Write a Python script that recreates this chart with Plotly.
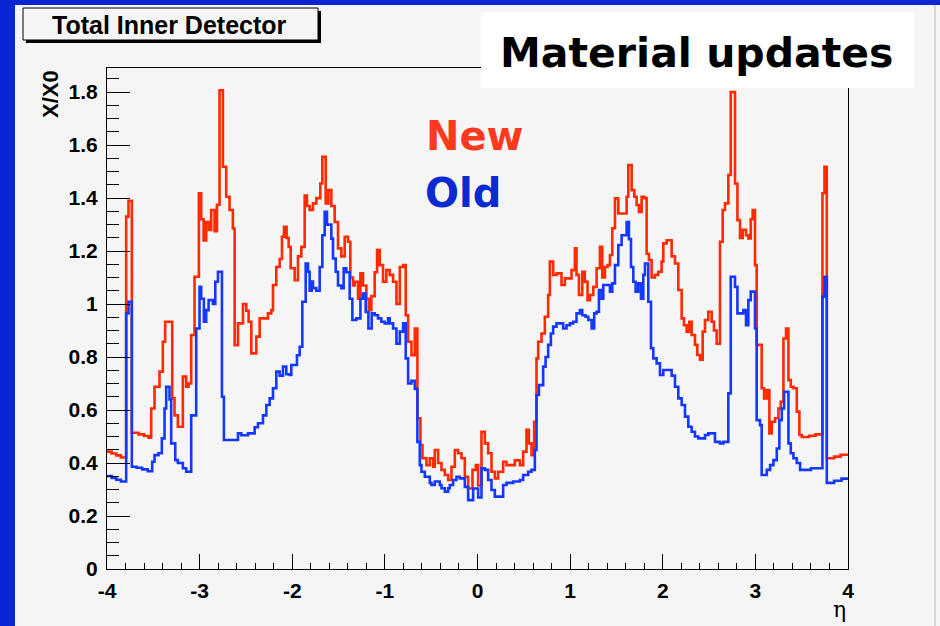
import plotly.graph_objects as go

# Material budget (X/X0) of the total inner detector versus pseudorapidity.
# Each series is a histogram given as step start positions in eta and step contents.
new_eta = [
    -4.000, -3.950, -3.900, -3.850,
    -3.793, -3.768, -3.732, -3.660, -3.600, -3.550,
    -3.523, -3.487, -3.433, -3.397, -3.372, -3.296, -3.271, -3.235, -3.181, -3.145,
    -3.119, -3.091, -3.055, -3.008, -2.983, -2.957, -2.929, -2.900, -2.875, -2.839,
    -2.813, -2.785, -2.749, -2.713, -2.677, -2.641, -2.622,
    -2.586, -2.532, -2.496, -2.471, -2.442, -2.388, -2.352, -2.262, -2.226, -2.208,
    -2.172, -2.136, -2.111, -2.089, -2.061, -2.039, -2.017,
    -1.974, -1.938, -1.902, -1.866, -1.841, -1.812, -1.776, -1.740, -1.697, -1.675,
    -1.639, -1.610, -1.578, -1.542, -1.506, -1.470, -1.434, -1.398, -1.373, -1.344,
    -1.326, -1.290, -1.264, -1.236, -1.200, -1.174, -1.146, -1.110, -1.084, -1.056,
    -1.020, -0.984, -0.948, -0.911, -0.875, -0.839, -0.803, -0.775, -0.749, -0.713,
    -0.677, -0.649,
    -0.616, -0.594, -0.551, -0.515, -0.479, -0.461, -0.425, -0.389, -0.353, -0.317,
    -0.281, -0.245, -0.209, -0.173, -0.137, -0.101,
    -0.054, -0.018, 0.007, 0.043, 0.079, 0.115, 0.151, 0.187, 0.223, 0.277,
    0.313, 0.403, 0.457, 0.493, 0.529, 0.554, 0.583, 0.612,
    0.637, 0.655, 0.691, 0.727, 0.763, 0.781, 0.817, 0.853, 0.907, 0.943,
    1.015, 1.051, 1.069, 1.095, 1.131, 1.159, 1.188, 1.214, 1.250, 1.286,
    1.322, 1.347, 1.376, 1.404, 1.430, 1.455, 1.484, 1.520, 1.610, 1.628,
    1.664, 1.693, 1.718, 1.743, 1.772, 1.801, 1.826, 1.851, 1.880, 1.916,
    1.952, 1.988,
    2.006, 2.042, 2.096, 2.132, 2.168, 2.204, 2.229, 2.258, 2.287, 2.312,
    2.348, 2.373, 2.402, 2.431, 2.456, 2.492, 2.528, 2.553, 2.582, 2.618,
    2.647, 2.672, 2.708, 2.734, 2.780, 2.806, 2.834, 2.863, 2.899, 2.924,
    2.950, 2.971, 2.996, 3.014, 3.068, 3.094, 3.123, 3.151, 3.177, 3.213,
    3.249, 3.274, 3.303, 3.331, 3.357, 3.382, 3.411, 3.447, 3.475, 3.501,
    3.580, 3.650, 3.724, 3.746, 3.771, 3.850, 3.920,
]
new_x0 = [
    0.443, 0.436, 0.429, 0.421,
    1.330, 1.390, 0.514, 0.508, 0.502, 0.496,
    0.606, 0.688, 0.745, 0.858, 0.933, 0.644, 0.580, 0.537, 0.726, 0.688,
    0.700, 0.883, 1.103, 1.418, 1.320, 1.240, 1.310, 1.280, 1.355, 1.275,
    1.375, 1.807, 1.518, 1.405, 1.355, 1.285, 0.845,
    0.927, 1.000, 0.975, 0.933, 0.814, 0.877, 0.946, 0.965, 0.977, 1.072,
    1.140, 1.170, 1.254, 1.292, 1.250, 1.216, 1.135,
    1.090, 1.180, 1.216, 1.410, 1.370, 1.355, 1.380, 1.400, 1.455, 1.556,
    1.380, 1.430, 1.370, 1.310, 1.210, 1.180, 1.254, 1.235, 1.100, 1.070,
    1.084, 1.020, 1.116, 1.070, 1.020, 0.977, 1.030, 1.120, 1.204, 1.147,
    1.084, 1.128, 1.110, 1.084, 1.000, 1.140, 1.147, 0.958, 0.858, 0.807,
    0.908, 0.569,
    0.468, 0.418, 0.392, 0.418, 0.386, 0.449, 0.400, 0.374, 0.355, 0.336,
    0.386, 0.449, 0.437, 0.418, 0.348, 0.304,
    0.374, 0.392, 0.315, 0.518, 0.474, 0.437, 0.367, 0.342, 0.367, 0.405,
    0.392, 0.410, 0.392, 0.443, 0.525, 0.474, 0.430, 0.556,
    0.795, 0.858, 0.889, 0.952, 1.034, 1.160, 1.110, 1.116, 1.072, 1.097,
    1.128, 1.210, 1.110, 1.034, 1.122, 1.084, 1.015, 1.034, 1.065, 1.135,
    1.216, 1.100, 1.140, 1.147, 1.185, 1.286, 1.399, 1.342, 1.405, 1.525,
    1.430, 1.405, 1.374, 1.348, 1.405, 1.400, 1.190, 1.166, 1.100, 1.110,
    1.122, 1.160,
    1.229, 1.241, 1.180, 1.153, 1.053, 0.946, 0.920, 0.896, 0.933, 0.883,
    0.846, 0.808, 0.790, 0.896, 0.940, 0.971, 0.933, 0.900, 0.850, 1.235,
    1.355, 1.380, 1.487, 1.800, 1.455, 1.317, 1.250, 1.280, 1.260, 1.248,
    1.320, 1.355, 1.147, 0.846, 0.682, 0.644, 0.675, 0.512, 0.556, 0.569,
    0.606, 0.631, 0.870, 0.908, 0.713, 0.688, 0.682, 0.594, 0.506, 0.498,
    0.503, 0.508, 1.418, 1.518, 0.418, 0.424, 0.431,
]

old_eta = [
    -4.000, -3.950, -3.900, -3.850,
    -3.793, -3.768, -3.732, -3.680, -3.620, -3.560,
    -3.512, -3.487, -3.444, -3.408, -3.379, -3.361, -3.325, -3.307, -3.263, -3.235,
    -3.181, -3.145, -3.091, -3.037, -3.001, -2.983, -2.954, -2.929, -2.903, -2.856,
    -2.831, -2.802, -2.759, -2.738, -2.586, -2.550, -2.478, -2.406, -2.370, -2.316,
    -2.280, -2.244, -2.208, -2.172, -2.136, -2.100, -2.064, -2.028,
    -2.010, -1.949, -1.920, -1.891, -1.855, -1.830, -1.812, -1.790, -1.776, -1.740,
    -1.704, -1.675, -1.650, -1.625, -1.578, -1.560, -1.531, -1.506, -1.470, -1.445,
    -1.416, -1.380, -1.351, -1.308, -1.264, -1.236, -1.207, -1.178, -1.142, -1.110,
    -1.074, -1.038, -1.002, -0.966, -0.948, -0.911, -0.875, -0.839, -0.803, -0.775,
    -0.749, -0.713, -0.677, -0.649,
    -0.623, -0.605, -0.569, -0.515, -0.497, -0.461, -0.407, -0.389, -0.353, -0.317,
    -0.299, -0.263, -0.227, -0.191, -0.137, -0.101,
    -0.047, 0.007, 0.043, 0.079, 0.115, 0.151, 0.187, 0.277, 0.313, 0.385,
    0.457, 0.493, 0.547, 0.583, 0.619,
    0.637, 0.663, 0.709, 0.735, 0.763, 0.792, 0.817, 0.853, 0.925, 0.961,
    0.997, 1.033, 1.069, 1.106, 1.131, 1.167, 1.196, 1.232, 1.260, 1.286,
    1.311, 1.340, 1.358, 1.430, 1.455, 1.484, 1.520, 1.556, 1.610, 1.635,
    1.657, 1.682, 1.707, 1.736, 1.765, 1.790, 1.808, 1.844, 1.873, 1.898,
    1.934, 1.970,
    2.006, 2.096, 2.132, 2.168, 2.204, 2.240, 2.276, 2.312, 2.348, 2.384,
    2.456, 2.492, 2.564, 2.618, 2.654, 2.708, 2.734, 2.780, 2.806, 2.870,
    2.899, 2.924, 2.950, 2.996, 3.014, 3.050, 3.068, 3.123, 3.159, 3.195,
    3.231, 3.259, 3.285, 3.310, 3.357, 3.382, 3.411, 3.447, 3.483, 3.600,
    3.724, 3.746, 3.771, 3.850, 3.930,
]
old_x0 = [
    0.351, 0.344, 0.337, 0.330,
    0.965, 1.009, 0.386, 0.382, 0.376, 0.369,
    0.405, 0.430, 0.437, 0.493, 0.606, 0.688, 0.640, 0.474, 0.411, 0.400,
    0.380, 0.367, 0.580, 0.908, 1.065, 1.020, 0.933, 0.977, 1.015, 1.000,
    1.084, 1.122, 0.650, 0.487, 0.512, 0.505, 0.512, 0.535, 0.550, 0.580,
    0.619, 0.644, 0.682, 0.745, 0.730, 0.764, 0.735, 0.732,
    0.770, 0.807, 0.839, 1.009, 1.153, 1.122, 1.050, 1.085, 1.060, 1.050,
    1.140, 1.260, 1.348, 1.300, 1.247, 1.172, 1.122, 1.070, 1.060, 1.135,
    1.120, 1.020, 0.940, 0.946, 1.020, 1.040, 0.970, 0.908, 0.965, 0.958,
    0.946, 0.933, 0.927, 0.946, 0.927, 0.908, 0.850, 0.896, 0.927, 0.795,
    0.700, 0.710, 0.680, 0.480,
    0.392, 0.367, 0.348, 0.325, 0.317, 0.330, 0.317, 0.305, 0.292, 0.305,
    0.317, 0.336, 0.348, 0.342, 0.310, 0.260,
    0.304, 0.270, 0.380, 0.374, 0.336, 0.298, 0.273, 0.317, 0.325, 0.330,
    0.336, 0.355, 0.367, 0.374, 0.449,
    0.657, 0.694, 0.764, 0.800, 0.846, 0.889, 0.915, 0.927, 0.908, 0.920,
    0.927, 0.933, 0.965, 0.977, 0.958, 0.952, 0.940, 0.908, 0.965, 0.971,
    1.053, 1.020, 1.072, 1.047, 1.078, 1.147, 1.223, 1.260, 1.310, 1.245,
    1.140, 1.084, 1.047, 1.078, 1.020, 1.110, 1.153, 1.009, 0.833, 0.795,
    0.776, 0.732,
    0.751, 0.730, 0.688, 0.644, 0.619, 0.575, 0.537, 0.518, 0.500, 0.493,
    0.506, 0.512, 0.480, 0.474, 0.480, 0.663, 1.103, 1.065, 0.965, 0.977,
    0.920, 1.015, 1.047, 0.908, 0.562, 0.543, 0.355, 0.374, 0.392, 0.411,
    0.455, 0.562, 0.606, 0.669, 0.474, 0.437, 0.418, 0.400, 0.374, 0.380,
    1.028, 1.103, 0.325, 0.333, 0.341,
]

eta_min, eta_max = -4.0, 4.0
x_ticks = [-4, -3, -2, -1, 0, 1, 2, 3, 4]
x_tick_text = ["-4", "-3", "-2", "-1", "0", "1", "2", "3", "4"]

RED = "#ff2a00"
BLUE = "#1438ff"
SLIDE_BLUE = "#0a26d4"
CANVAS = "#f5f5f5"

W, H = 940, 626
ML, MR, MT, MB = 107, 92, 68, 57
PW, PH = W - ML - MR, H - MT - MB


def px_x(px):
    return (px - ML) / PW


def px_y(py):
    return (H - MB - py) / PH


fig = go.Figure()
for eta, vals, col in ((new_eta, new_x0, RED), (old_eta, old_x0, BLUE)):
    fig.add_trace(go.Scatter(
        x=eta + [eta_max], y=vals + [vals[-1]],
        mode="lines", line=dict(color=col, width=2.6, shape="hv"),
        hoverinfo="skip", showlegend=False,
    ))

tick_font = dict(family="Liberation Sans", size=21, color="black", weight="bold")

fig.update_layout(
    width=W, height=H,
    margin=dict(l=ML, r=MR, t=MT, b=MB, pad=0),
    paper_bgcolor=SLIDE_BLUE,
    plot_bgcolor=CANVAS,
    xaxis=dict(
        range=[eta_min, eta_max], tickvals=x_ticks, ticktext=x_tick_text,
        ticks="inside", ticklen=15, tickwidth=1.2, tickcolor="black",
        showline=True, linecolor="black", linewidth=1.2, mirror=True,
        showgrid=False, zeroline=False, tickfont=tick_font, ticklabelstandoff=3,
        minor=dict(dtick=0.2, ticks="inside", ticklen=6, tickwidth=1.2, tickcolor="black",
                   showgrid=False),
    ),
    yaxis=dict(
        range=[0, 1.891], tick0=0, dtick=0.2,
        ticks="inside", ticklen=23, tickwidth=1.2, tickcolor="black",
        showline=True, linecolor="black", linewidth=1.2, mirror=True,
        showgrid=False, zeroline=False, tickfont=tick_font, ticklabelstandoff=4,
        minor=dict(dtick=0.05, ticks="inside", ticklen=12, tickwidth=1.2, tickcolor="black",
                   showgrid=False),
    ),
    shapes=[
        # light canvas on the slide background
        dict(type="rect", xref="paper", yref="paper", layer="below",
             x0=px_x(15), x1=px_x(940), y0=px_y(626), y1=px_y(5),
             fillcolor=CANVAS, line=dict(width=0)),
        # canvas edge on the right
        dict(type="line", xref="paper", yref="paper",
             x0=px_x(935), x1=px_x(935), y0=px_y(626), y1=px_y(5),
             line=dict(color="#b8b8b8", width=1)),
        # title pave with shadow
        dict(type="rect", xref="paper", yref="paper",
             x0=px_x(26), x1=px_x(321), y0=px_y(43), y1=px_y(11),
             fillcolor="black", line=dict(width=0)),
        dict(type="rect", xref="paper", yref="paper",
             x0=px_x(23), x1=px_x(318), y0=px_y(40), y1=px_y(8),
             fillcolor=CANVAS, line=dict(color="black", width=1)),
        # white label box
        dict(type="rect", xref="paper", yref="paper",
             x0=px_x(481), x1=px_x(914), y0=px_y(88), y1=px_y(12),
             fillcolor="white", line=dict(width=0)),
    ],
    annotations=[
        dict(text="Total Inner Detector", xref="paper", yref="paper",
             x=px_x(169), y=px_y(25), xanchor="center", yanchor="middle", showarrow=False,
             font=dict(family="Liberation Sans", size=25, color="black", weight="bold")),
        dict(text="Material updates", xref="paper", yref="paper",
             x=px_x(697), y=px_y(53), xanchor="center", yanchor="middle", showarrow=False,
             font=dict(family="DejaVu Sans", size=41, color="black", weight="bold")),
        dict(text="New", xref="paper", yref="paper",
             x=px_x(424), y=px_y(136), xanchor="left", yanchor="middle", showarrow=False,
             font=dict(family="DejaVu Sans", size=40, color="#ff3a1c", weight="bold")),
        dict(text="Old", xref="paper", yref="paper",
             x=px_x(423), y=px_y(193), xanchor="left", yanchor="middle", showarrow=False,
             font=dict(family="DejaVu Sans", size=40, color="#0a2ad2", weight="bold")),
        dict(text="X/X0", xref="paper", yref="paper", textangle=-90,
             x=px_x(50), y=px_y(68), xanchor="center", yanchor="top", showarrow=False,
             font=dict(family="Liberation Sans", size=22, color="black", weight="bold")),
        dict(text="η", xref="paper", yref="paper",
             x=1.0, y=px_y(609), xanchor="right", yanchor="middle", showarrow=False,
             font=dict(family="DejaVu Serif", size=22, color="black")),
    ],
)

fig.write_html("out.html")
